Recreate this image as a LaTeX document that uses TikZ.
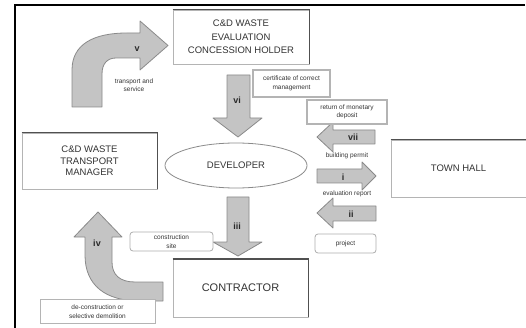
\documentclass[tikz,border=0pt]{standalone}
\usepackage{fontspec}
\setmainfont{Liberation Sans}
\usetikzlibrary{shapes.geometric}
\definecolor{txt}{HTML}{333333}
\definecolor{afill}{HTML}{C4C4C4}
\definecolor{aline}{HTML}{8A8A8A}
\definecolor{bline}{HTML}{B4B4B4}
\definecolor{shad}{HTML}{505050}
\tikzset{
  bigbox/.style={draw=bline, line width=0.8pt, fill=white, inner sep=0pt, align=center, text=txt},
  shadowline/.style={draw=shad, line width=1.8pt},
  smallbox/.style={draw=bline, line width=1.2pt, fill=white, inner sep=0pt, align=center, text=txt,
    font=\fontsize{6.5}{8.5}\selectfont},
  smalltext/.style={inner sep=0pt, align=center, text=txt, font=\fontsize{6.5}{8.5}\selectfont},
  blockarrow/.style={fill=afill, draw=aline, line width=0.8pt, line join=round},
  numlabel/.style={inner sep=0pt, text=txt!80!black, font=\fontsize{9}{10}\selectfont\bfseries},
}
\begin{document}
\begin{tikzpicture}[x=1pt,y=-1pt]
\useasboundingbox (0,0) rectangle (526,328);
% frame
\coordinate (fbl) at (15,328);
\coordinate (ftl) at (15,5);
\coordinate (ftr) at (525,5);
\draw[line width=1.5pt] (fbl) -- (ftl) -- (ftr);

% main boxes
\node[bigbox, minimum width=136pt, minimum height=54pt,
  font=\fontsize{9.5}{13.5}\selectfont] (eval) at (241,37) {C\&D WASTE\\EVALUATION\\CONCESSION HOLDER};
\draw[shadowline] (eval.north west) -- (eval.north east) -- (eval.south east);

\node[bigbox, minimum width=135pt, minimum height=56pt,
  font=\fontsize{9.5}{11.5}\selectfont] (tm) at (89.5,161) {C\&D WASTE\\TRANSPORT\\MANAGER};
\draw[shadowline] (tm.north west) -- (tm.north east) -- (tm.south east);

\node[bigbox, minimum width=135pt, minimum height=58pt,
  font=\fontsize{11}{13}\selectfont] (con) at (240.5,288) {\raisebox{0pt}{CONTRACTOR}};
\draw[shadowline] (con.north west) -- (con.north east) -- (con.south east);

\node[bigbox, minimum width=135pt, minimum height=57pt,
  font=\fontsize{9.5}{11}\selectfont] (th) at (458.5,168.5) {TOWN HALL};
\draw[shadowline] (th.north west) -- (th.north east) -- (th.south east);

\node[ellipse, draw=aline, line width=0.8pt, minimum width=142pt, minimum height=45pt, inner sep=0pt,
  text=txt, font=\fontsize{9.5}{11}\selectfont] (dev) at (236,165.5) {DEVELOPER};

% curved arrow v
\draw[blockarrow] (72,107) -- (72,70) .. controls (72,44) and (94,33) .. (127,33) -- (140,33) -- (140,21)
  -- (168,45.5) -- (140,70) -- (140,58) -- (116,58) .. controls (107,58) and (102,64) .. (102,74) -- (102,107) -- cycle;
\node[numlabel] (lv) at (137,49) {v};
\node[smalltext] (ts) at (134,85) {transport and\\service};

% curved arrow iv
\draw[blockarrow] (98,212) -- (122,237) -- (112,237) -- (112,262) .. controls (112,275) and (120,282) .. (135,282)
  -- (163,282) -- (163,301) -- (140,301) .. controls (105,301) and (85,285) .. (85,255) -- (85,237) -- (74,237) -- cycle;
\node[numlabel] (liv) at (97,243) {iv};

% vi
\draw[blockarrow] (227,75) -- (250,75) -- (250,118) -- (262,118) -- (238,137) -- (213,118) -- (227,118) -- cycle;
\node[numlabel] (lvi) at (237,100) {vi};

% iii
\draw[blockarrow] (227,197) -- (249,197) -- (249,242) -- (262,242) -- (238,256) -- (213,242) -- (227,242) -- cycle;
\node[numlabel] (liii) at (237,226) {iii};

% vii
\draw[blockarrow] (317,137) -- (333,122) -- (333,130) -- (375,130) -- (375,144) -- (333,144) -- (333,152) -- cycle;
\node[numlabel] (lvii) at (353,137) {vii};
% i
\draw[blockarrow] (317,169) -- (362,169) -- (362,162) -- (376,176) -- (362,190) -- (362,183) -- (317,183) -- cycle;
\node[numlabel] (li) at (343,177) {i};
% ii
\draw[blockarrow] (317,213) -- (333,198) -- (333,206) -- (376,206) -- (376,221) -- (333,221) -- (333,228) -- cycle;
\node[numlabel] (lii) at (351,214) {ii};

% small labels
\node[smallbox, minimum width=77pt, minimum height=27pt] (cert) at (291.5,83.5) {certificate of correct\\management};
\node[smallbox, minimum width=80pt, minimum height=24pt] (ret) at (347,112) {return of monetary\\deposit};
\node[smalltext] (bp) at (347,156) {building permit};
\node[smalltext] (er) at (347,194) {evaluation report};
\node[smallbox, line width=0.8pt, draw=aline!70, rounded corners=3pt, minimum width=61pt, minimum height=19pt] (proj) at (345.5,243.5) {project};
\node[smallbox, line width=0.8pt, draw=aline!70, rounded corners=3pt, minimum width=83pt, minimum height=19pt] (site) at (171.5,241.5) {construction\\site};
\node[smallbox, line width=0.8pt, minimum width=115pt, minimum height=24pt] (decon) at (97.5,311.5) {de-construction or\\selective demolition};
\end{tikzpicture}
\end{document}
